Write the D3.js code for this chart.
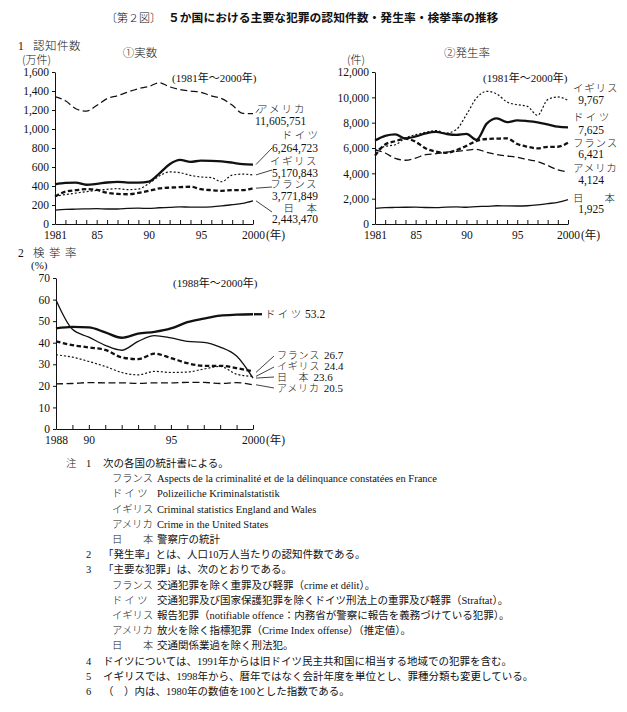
<!DOCTYPE html>
<html><head><meta charset="utf-8">
<script src="https://cdn.jsdelivr.net/npm/d3@7"></script>
<style>
body{margin:0;background:#fff;}
svg{display:block;}
text{font-family:"Liberation Serif","Noto Sans CJK JP",serif;fill:#111;}
.jp{font-family:"Noto Sans CJK JP",sans-serif;font-weight:300;}
</style></head>
<body>
<svg id="c" width="627" height="712"></svg>
<script>
// ---------- DATA ----------
const years1 = [1981,1982,1983,1984,1985,1986,1987,1988,1989,1990,1991,1992,1993,1994,1995,1996,1997,1998,1999,2000];
const years3 = [1988,1989,1990,1991,1992,1993,1994,1995,1996,1997,1998,1999,2000];
const countries = ["アメリカ","ドイツ","イギリス","フランス","日本"];

// 1 認知件数 (万件)
const usCount = [1340,1297,1213,1188,1247,1321,1351,1390,1425,1448,1487,1444,1414,1400,1387,1349,1320,1252,1165,1161];
const deCount = [418,432,435,413,422,437,444,436,436,446,530,629,675,654,667,665,659,646,630,626];
const gbCount = [292,310,325,340,355,365,372,362,368,425,505,548,540,512,495,488,445,515,525,517];
const frCount = [289,341,356,368,358,329,317,313,327,349,374,383,388,392,367,356,349,357,357,377];
const jpCount = [146,153,156,159,161,158,158,164,167,164,171,174,180,178,178,181,190,203,217,244];

// ② 発生率 (件)
const usRate = [5858,5604,5175,5031,5207,5480,5550,5664,5741,5820,5898,5660,5484,5374,5276,5087,4930,4619,4267,4124];
const deRate = [6600,6963,7078,6754,6909,7154,7269,7114,7031,7108,6649,7921,8337,8038,8179,8125,8031,7869,7682,7625];
const gbRate = [5790,6130,6260,6790,7050,7240,7370,7180,7450,8630,9950,10470,10260,9630,9420,9290,8580,9820,10030,9767];
const frRate = [5400,6280,6540,6740,6490,5960,5720,5620,5830,6170,6560,6710,6740,6760,6320,6100,5970,6090,6100,6421];
const jpRate = [1239,1289,1307,1322,1328,1301,1294,1338,1354,1324,1378,1396,1440,1424,1420,1440,1506,1608,1709,1925];

// 2 検挙率 (%)
const usClr = [20.9,21.1,21.5,21.4,21.4,21.1,21.4,21.4,21.6,21.6,21.1,21.5,20.5];
const deClr = [46.6,47.3,47.1,44.8,42.3,44.2,45.0,46.6,49.5,51.2,52.6,53.0,53.2];
const gbClr = [34.4,33.3,31.3,29.0,26.2,25.1,26.7,26.2,26.4,27.8,29.0,25.4,24.4];
const frClr = [40.6,38.9,37.8,36.7,33.2,32.4,34.9,32.9,30.5,29.3,29.3,28.2,26.7];
const jpClr = [59.8,46.2,42.6,38.8,36.5,40.6,43.3,42.2,40.6,40.2,38.0,33.8,23.6];

const yTicks1 = [0,200,400,600,800,1000,1200,1400,1600];
const yTicks2 = [0,2000,4000,6000,8000,10000,12000];
const yTicks3 = [0,10,20,30,40,50,60,70];
const xLabels1 = {1981:"1981",1985:"85",1990:"90",1995:"95",2000:"2000"};
const xLabels3 = {1988:"1988",1990:"90",1995:"95",2000:"2000"};

const countLabels = ["11,605,751","6,264,723","5,170,843","3,771,849","2,443,470"];
const rateLabels = ["4,124","7,625","9,767","6,421","1,925"];
const clrLabels = ["20.5","53.2","24.4","26.7","23.6"];

// ---------- STYLES ----------
const styles = {
  "アメリカ":{w:1.3,dash:"7,3.5"},
  "ドイツ":{w:2.3,dash:null},
  "イギリス":{w:1.2,dash:"2,2"},
  "フランス":{w:2.3,dash:"4.5,2.5"},
  "日本":{w:1.3,dash:null}
};

const svg = d3.select("#c");

function txt(x,y,s,opt={}){
  const t = svg.append("text").attr("x",x).attr("y",y).text(s)
    .style("font-size",(opt.size||11)+"px");
  if(opt.anchor) t.attr("text-anchor",opt.anchor);
  if(opt.cls) t.attr("class",opt.cls);
  if(opt.weight) t.style("font-weight",opt.weight);
  if(opt.ls) t.style("letter-spacing",opt.ls+"px");
  if(opt.family) t.style("font-family",opt.family);
  return t;
}
// one text element: japanese label + number
function lab2(x,y,jp,num,gap){
  const t = svg.append("text").attr("x",x).attr("y",y);
  t.append("tspan").attr("class","jp").style("font-size","10px").style("letter-spacing","0.8px").text(jp);
  t.append("tspan").attr("dx",gap).style("font-size","11px").text(num);
  return t;
}

function chart(cfg){
  const x = d3.scaleLinear().domain(cfg.xd).range(cfg.xr);
  const y = d3.scaleLinear().domain(cfg.yd).range(cfg.yr);
  const g = svg.append("g");
  const ya = g.append("g").attr("transform",`translate(${cfg.xr[0]},0)`)
    .call(d3.axisLeft(y).tickValues(cfg.yTicks).tickSize(3).tickSizeOuter(0).tickPadding(3).tickFormat(d3.format(",")));
  ya.selectAll("text").style("font-size","11.5px").style("font-family","Liberation Serif");
  const xa = g.append("g").attr("transform",`translate(0,${cfg.yr[0]})`)
    .call(d3.axisBottom(x).tickValues(cfg.years).tickSize(-4).tickSizeOuter(0).tickPadding(7)
      .tickFormat(d=>cfg.xLabels[d]||""));
  xa.selectAll("text").style("font-size","11.5px").style("font-family","Liberation Serif");
  g.selectAll(".domain,.tick line").attr("stroke","#111").attr("stroke-width",1);
  txt(x(cfg.xd[1])+13, cfg.yr[0]+15, "(年)",{size:11.5});
  const line = d3.line().x((d,i)=>x(cfg.years[i])).y(d=>y(d)).curve(d3.curveMonotoneX);
  cfg.series.forEach((s)=>{
    const st = styles[s.name];
    g.append("path").datum(s.values).attr("d",line)
      .attr("fill","none").attr("stroke","#111")
      .attr("stroke-width",st.w).attr("stroke-dasharray",st.dash)
      .attr("stroke-linejoin","round");
  });
  return {x,y};
}

// ---------- TITLE ----------
txt(161,22,"〔第２図〕",{size:11,cls:"jp",anchor:"end"});
txt(168,22,"５か国における主要な犯罪の認知件数・発生率・検挙率の推移",{size:11.8,family:"Noto Sans CJK JP",weight:"bold"});

// ---------- CHART 1 ----------
txt(18,50,"1",{size:11.5});
txt(33,50,"認知件数",{size:11.5,cls:"jp",ls:0.5});
txt(22,64,"(万件)",{size:11,cls:"jp"});
txt(140,57,"①実数",{size:11.5,cls:"jp",anchor:"middle"});
txt(172,82,"(1981年～2000年)",{size:11});
const c1 = chart({xd:[1981,2000],xr:[55,253],yd:[0,1600],yr:[224,72],years:years1,yTicks:yTicks1,xLabels:xLabels1,
  series:[{name:"アメリカ",values:usCount},{name:"ドイツ",values:deCount},{name:"イギリス",values:gbCount},{name:"フランス",values:frCount},{name:"日本",values:jpCount}]});
txt(257,113,"アメリカ",{size:10.5,cls:"jp",ls:2});
txt(255,125,countLabels[0],{size:11.5});
txt(318,139,"ド イ ツ",{size:10.5,cls:"jp",anchor:"end"});
txt(318,152,countLabels[1],{size:11.5,anchor:"end"});
txt(318,165,"イギリス",{size:10.5,cls:"jp",anchor:"end",ls:1.5});
txt(318,177,countLabels[2],{size:11.5,anchor:"end"});
txt(318,188,"フランス",{size:10.5,cls:"jp",anchor:"end",ls:1.5});
txt(318,200,countLabels[3],{size:11.5,anchor:"end"});
txt(318,212,"日　本",{size:10.5,cls:"jp",anchor:"end",ls:1});
txt(318,223,countLabels[4],{size:11.5,anchor:"end"});
const lead = (x1,y1,x2,y2,w=0.8)=>svg.append("line").attr("x1",x1).attr("y1",y1).attr("x2",x2).attr("y2",y2).attr("stroke","#111").attr("stroke-width",w);
lead(256,c1.y(usCount[19])-1,259,c1.y(usCount[19])-5);
lead(256,c1.y(deCount[19]),272,148);
lead(256,c1.y(gbCount[19]),272,170);
lead(256,c1.y(frCount[19]),272,187);
lead(256,c1.y(jpCount[19]),272,212);

// ---------- CHART 2 ----------
txt(467,57,"②発生率",{size:11.5,cls:"jp",anchor:"middle"});
txt(347,64,"(件)",{size:11,cls:"jp"});
txt(483,82,"(1981年～2000年)",{size:11});
chart({xd:[1981,2000],xr:[375,568],yd:[0,12000],yr:[224,72],years:years1,yTicks:yTicks2,xLabels:xLabels1,
  series:[{name:"アメリカ",values:usRate},{name:"ドイツ",values:deRate},{name:"イギリス",values:gbRate},{name:"フランス",values:frRate},{name:"日本",values:jpRate}]});
txt(573,92,"イギリス",{size:10.5,cls:"jp",ls:0.8});
txt(604,104,rateLabels[2],{size:11.5,anchor:"end"});
txt(573,121,"ド イ ツ",{size:10.5,cls:"jp"});
txt(604,134,rateLabels[1],{size:11.5,anchor:"end"});
txt(573,147,"フランス",{size:10.5,cls:"jp",ls:0.8});
txt(604,158,rateLabels[3],{size:11.5,anchor:"end"});
txt(573,172,"アメリカ",{size:10.5,cls:"jp",ls:0.8});
txt(604,184,rateLabels[0],{size:11.5,anchor:"end"});
txt(573,202,"日　　本",{size:10.5,cls:"jp"});
txt(604,213,rateLabels[4],{size:11.5,anchor:"end"});

// ---------- CHART 3 ----------
txt(18,257,"2",{size:11.5});
txt(33,257,"検 挙 率",{size:11.5,cls:"jp",ls:1});
txt(31,269,"(%)",{size:11});
txt(173,287,"(1988年～2000年)",{size:11});
const c3 = chart({xd:[1988,2000],xr:[56,253],yd:[0,70],yr:[429,278],years:years3,yTicks:yTicks3,xLabels:xLabels3,
  series:[{name:"アメリカ",values:usClr},{name:"ドイツ",values:deClr},{name:"イギリス",values:gbClr},{name:"フランス",values:frClr},{name:"日本",values:jpClr}]});
lead(254,c3.y(deClr[12]),262,c3.y(deClr[12]),2.3);
txt(265,c3.y(deClr[12])+4,"ド イ ツ",{size:10.5,cls:"jp"});
txt(305,c3.y(deClr[12])+4,clrLabels[1],{size:11.5});
lab2(277,359,"フランス",clrLabels[3],4);
lab2(277,370,"イギリス",clrLabels[2],4);
lab2(277,381,"日　本",clrLabels[4],4);
lab2(277,392,"アメリカ",clrLabels[0],4);
lead(256,c3.y(frClr[12])+1,274,356);
lead(256,c3.y(gbClr[12]),274,367);
lead(256,c3.y(jpClr[12]),274,377);
lead(256,c3.y(usClr[12]),274,388);

// ---------- NOTES ----------
const notes = [
  {n:"注",num:"1",t:"次の各国の統計書による。"},
  {lab:"フランス",t:"Aspects de la criminalité et de la délinquance constatées en France"},
  {lab:"ド イ ツ",t:"Polizeiliche Kriminalstatistik"},
  {lab:"イギリス",t:"Criminal statistics England and Wales"},
  {lab:"アメリカ",t:"Crime in the United States"},
  {lab:"日　　本",t:"警察庁の統計"},
  {num:"2",t:"「発生率」とは、人口10万人当たりの認知件数である。"},
  {num:"3",t:"「主要な犯罪」は、次のとおりである。"},
  {lab:"フランス",t:"交通犯罪を除く重罪及び軽罪（crime et délit）。"},
  {lab:"ド イ ツ",t:"交通犯罪及び国家保護犯罪を除くドイツ刑法上の重罪及び軽罪（Straftat）。"},
  {lab:"イギリス",t:"報告犯罪（notifiable offence：内務省が警察に報告を義務づけている犯罪）。"},
  {lab:"アメリカ",t:"放火を除く指標犯罪（Crime Index offense）（推定値）。"},
  {lab:"日　　本",t:"交通関係業過を除く刑法犯。"},
  {num:"4",t:"ドイツについては、1991年からは旧ドイツ民主共和国に相当する地域での犯罪を含む。"},
  {num:"5",t:"イギリスでは、1998年から、暦年ではなく会計年度を単位とし、罪種分類も変更している。"},
  {num:"6",t:"（　）内は、1980年の数値を100とした指数である。"}
];
notes.forEach((d,i)=>{
  const yy = 467 + i*15.2;
  if(d.n) txt(66,yy,d.n,{size:10.5,cls:"jp"});
  if(d.num) txt(86,yy,d.num,{size:10.5});
  if(d.lab){
    txt(112,yy,d.lab,{size:10.3,cls:"jp"});
    txt(157,yy,d.t,{size:10.5});
  } else {
    txt(103,yy,d.t,{size:10.5});
  }
});
</script>
</body></html>
